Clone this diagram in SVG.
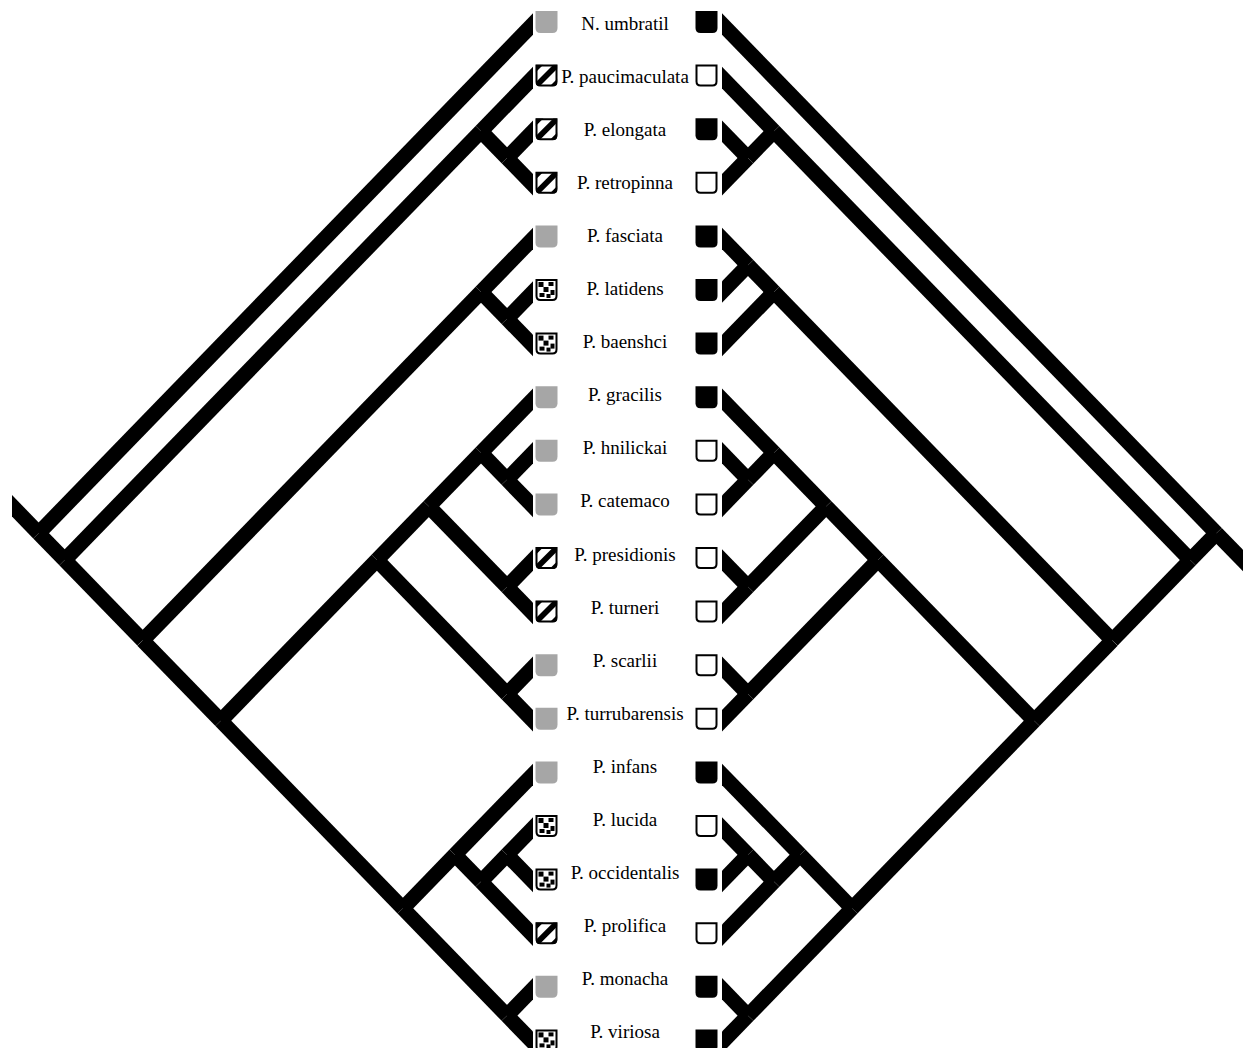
<svg xmlns="http://www.w3.org/2000/svg" width="1243" height="1048" viewBox="0 0 1243 1048">
<style>
.br{stroke:#000;stroke-width:15;stroke-linecap:butt;fill:none}
.lbl{font-family:"Liberation Serif","Times New Roman",serif;font-size:19px;text-anchor:middle;fill:#000}
</style>
<defs>
<clipPath id="clipL"><rect x="12" y="0" width="521" height="1048"/></clipPath>
<clipPath id="clipR"><rect x="722" y="0" width="521" height="1048"/></clipPath>
<clipPath id="sqclip"><path d="M0,0H22V17Q22,22 17,22H5Q0,22 0,17Z"/></clipPath>
<path id="sq" d="M0,0H22V17Q22,22 17,22H5Q0,22 0,17Z"/>
<path id="sqo" d="M1,1H21V17Q21,21 17,21H5Q1,21 1,17Z" fill="#fff" stroke="#000" stroke-width="2"/>
<g id="gray"><use href="#sq" fill="#a6a6a6"/></g>
<g id="blk"><use href="#sq" fill="#000"/></g>
<g id="wht"><use href="#sqo"/></g>
<g id="hat"><use href="#sqo"/><path clip-path="url(#sqclip)" d="M0,0H8L0,8Z M18,0H22V4L4,22H0V18Z M22,14V22H14Z" fill="#000"/></g>
<g id="chk"><use href="#sqo"/><g fill="#000"><rect x="3" y="3" width="5" height="5"/><rect x="13" y="3" width="5" height="4"/><rect x="8" y="8" width="5" height="5"/><rect x="15" y="11" width="4" height="5"/><rect x="4" y="14" width="5" height="4"/><rect x="11" y="15" width="4" height="4"/></g></g>
</defs>
<rect width="1243" height="1048" fill="#fff"/>
<g id="connectors">
<g id="tree-left" clip-path="url(#clipL)">
<line class="br" x1="38.6" y1="533.2" x2="0" y2="493.4"/>
<line class="br" x1="38.6" y1="533.2" x2="543" y2="13.7"/>
<line class="br" x1="38.6" y1="533.2" x2="64.7" y2="560"/>
<line class="br" x1="64.7" y1="560" x2="481" y2="131.2"/>
<line class="br" x1="64.7" y1="560" x2="142.7" y2="640.4"/>
<line class="br" x1="481" y1="131.2" x2="543" y2="67.3"/>
<line class="br" x1="481" y1="131.2" x2="507" y2="158"/>
<line class="br" x1="507" y1="158" x2="543" y2="120.9"/>
<line class="br" x1="507" y1="158" x2="543" y2="195.1"/>
<line class="br" x1="142.7" y1="640.4" x2="481" y2="292"/>
<line class="br" x1="142.7" y1="640.4" x2="220.8" y2="720.8"/>
<line class="br" x1="481" y1="292" x2="543" y2="228.1"/>
<line class="br" x1="481" y1="292" x2="507" y2="318.8"/>
<line class="br" x1="507" y1="318.8" x2="543" y2="281.7"/>
<line class="br" x1="507" y1="318.8" x2="543" y2="355.9"/>
<line class="br" x1="220.8" y1="720.8" x2="376.9" y2="560"/>
<line class="br" x1="220.8" y1="720.8" x2="402.9" y2="908.4"/>
<line class="br" x1="376.9" y1="560" x2="428.9" y2="506.4"/>
<line class="br" x1="376.9" y1="560" x2="507" y2="694"/>
<line class="br" x1="428.9" y1="506.4" x2="481" y2="452.8"/>
<line class="br" x1="428.9" y1="506.4" x2="507" y2="586.8"/>
<line class="br" x1="481" y1="452.8" x2="543" y2="388.9"/>
<line class="br" x1="481" y1="452.8" x2="507" y2="479.6"/>
<line class="br" x1="507" y1="479.6" x2="543" y2="442.5"/>
<line class="br" x1="507" y1="479.6" x2="543" y2="516.7"/>
<line class="br" x1="507" y1="586.8" x2="543" y2="549.7"/>
<line class="br" x1="507" y1="586.8" x2="543" y2="623.9"/>
<line class="br" x1="507" y1="694" x2="543" y2="656.9"/>
<line class="br" x1="507" y1="694" x2="543" y2="731.1"/>
<line class="br" x1="402.9" y1="908.4" x2="454.9" y2="854.8"/>
<line class="br" x1="402.9" y1="908.4" x2="507" y2="1015.6"/>
<line class="br" x1="454.9" y1="854.8" x2="543" y2="764.1"/>
<line class="br" x1="454.9" y1="854.8" x2="481" y2="881.6"/>
<line class="br" x1="481" y1="881.6" x2="507" y2="854.8"/>
<line class="br" x1="481" y1="881.6" x2="543" y2="945.5"/>
<line class="br" x1="507" y1="854.8" x2="543" y2="817.7"/>
<line class="br" x1="507" y1="854.8" x2="543" y2="891.9"/>
<line class="br" x1="507" y1="1015.6" x2="543" y2="978.5"/>
<line class="br" x1="507" y1="1015.6" x2="543" y2="1052.7"/>
</g>
<g id="tree-right" clip-path="url(#clipR)">
<line class="br" x1="1216.4" y1="533.2" x2="1256.4" y2="574.4"/>
<line class="br" x1="1216.4" y1="533.2" x2="712" y2="13.7"/>
<line class="br" x1="1216.4" y1="533.2" x2="1190.3" y2="560"/>
<line class="br" x1="1190.3" y1="560" x2="774" y2="131.2"/>
<line class="br" x1="1190.3" y1="560" x2="1112.3" y2="640.4"/>
<line class="br" x1="774" y1="131.2" x2="712" y2="67.3"/>
<line class="br" x1="774" y1="131.2" x2="748" y2="158"/>
<line class="br" x1="748" y1="158" x2="712" y2="120.9"/>
<line class="br" x1="748" y1="158" x2="712" y2="195.1"/>
<line class="br" x1="1112.3" y1="640.4" x2="774" y2="292"/>
<line class="br" x1="1112.3" y1="640.4" x2="1034.2" y2="720.8"/>
<line class="br" x1="774" y1="292" x2="748" y2="265.2"/>
<line class="br" x1="774" y1="292" x2="712" y2="355.9"/>
<line class="br" x1="748" y1="265.2" x2="712" y2="228.1"/>
<line class="br" x1="748" y1="265.2" x2="712" y2="302.3"/>
<line class="br" x1="1034.2" y1="720.8" x2="878.1" y2="560"/>
<line class="br" x1="1034.2" y1="720.8" x2="852.1" y2="908.4"/>
<line class="br" x1="878.1" y1="560" x2="826.1" y2="506.4"/>
<line class="br" x1="878.1" y1="560" x2="748" y2="694"/>
<line class="br" x1="826.1" y1="506.4" x2="774" y2="452.8"/>
<line class="br" x1="826.1" y1="506.4" x2="748" y2="586.8"/>
<line class="br" x1="774" y1="452.8" x2="712" y2="388.9"/>
<line class="br" x1="774" y1="452.8" x2="748" y2="479.6"/>
<line class="br" x1="748" y1="479.6" x2="712" y2="442.5"/>
<line class="br" x1="748" y1="479.6" x2="712" y2="516.7"/>
<line class="br" x1="748" y1="586.8" x2="712" y2="549.7"/>
<line class="br" x1="748" y1="586.8" x2="712" y2="623.9"/>
<line class="br" x1="748" y1="694" x2="712" y2="656.9"/>
<line class="br" x1="748" y1="694" x2="712" y2="731.1"/>
<line class="br" x1="852.1" y1="908.4" x2="800.1" y2="854.8"/>
<line class="br" x1="852.1" y1="908.4" x2="748" y2="1015.6"/>
<line class="br" x1="800.1" y1="854.8" x2="712" y2="764.1"/>
<line class="br" x1="800.1" y1="854.8" x2="774" y2="881.6"/>
<line class="br" x1="774" y1="881.6" x2="748" y2="854.8"/>
<line class="br" x1="774" y1="881.6" x2="712" y2="945.5"/>
<line class="br" x1="748" y1="854.8" x2="712" y2="817.7"/>
<line class="br" x1="748" y1="854.8" x2="712" y2="891.9"/>
<line class="br" x1="748" y1="1015.6" x2="712" y2="978.5"/>
<line class="br" x1="748" y1="1015.6" x2="712" y2="1052.7"/>
</g>
</g>
<g id="taxa">
<g id="t00"><use href="#gray" x="535.5" y="11"/><text class="lbl" x="625" y="30">N. umbratil</text><use href="#blk" x="695.5" y="11"/></g>
<g id="t01"><use href="#hat" x="535.5" y="64.6"/><text class="lbl" x="625" y="83.05">P. paucimaculata</text><use href="#wht" x="695.5" y="64.6"/></g>
<g id="t02"><use href="#hat" x="535.5" y="118.2"/><text class="lbl" x="625" y="136.1">P. elongata</text><use href="#blk" x="695.5" y="118.2"/></g>
<g id="t03"><use href="#hat" x="535.5" y="171.8"/><text class="lbl" x="625" y="189.15">P. retropinna</text><use href="#wht" x="695.5" y="171.8"/></g>
<g id="t04"><use href="#gray" x="535.5" y="225.4"/><text class="lbl" x="625" y="242.2">P. fasciata</text><use href="#blk" x="695.5" y="225.4"/></g>
<g id="t05"><use href="#chk" x="535.5" y="279"/><text class="lbl" x="625" y="295.25">P. latidens</text><use href="#blk" x="695.5" y="279"/></g>
<g id="t06"><use href="#chk" x="535.5" y="332.6"/><text class="lbl" x="625" y="348.3">P. baenshci</text><use href="#blk" x="695.5" y="332.6"/></g>
<g id="t07"><use href="#gray" x="535.5" y="386.2"/><text class="lbl" x="625" y="401.35">P. gracilis</text><use href="#blk" x="695.5" y="386.2"/></g>
<g id="t08"><use href="#gray" x="535.5" y="439.8"/><text class="lbl" x="625" y="454.4">P. hnilickai</text><use href="#wht" x="695.5" y="439.8"/></g>
<g id="t09"><use href="#gray" x="535.5" y="493.4"/><text class="lbl" x="625" y="507.45">P. catemaco</text><use href="#wht" x="695.5" y="493.4"/></g>
<g id="t10"><use href="#hat" x="535.5" y="547"/><text class="lbl" x="625" y="560.5">P. presidionis</text><use href="#wht" x="695.5" y="547"/></g>
<g id="t11"><use href="#hat" x="535.5" y="600.6"/><text class="lbl" x="625" y="613.55">P. turneri</text><use href="#wht" x="695.5" y="600.6"/></g>
<g id="t12"><use href="#gray" x="535.5" y="654.2"/><text class="lbl" x="625" y="666.6">P. scarlii</text><use href="#wht" x="695.5" y="654.2"/></g>
<g id="t13"><use href="#gray" x="535.5" y="707.8"/><text class="lbl" x="625" y="719.65">P. turrubarensis</text><use href="#wht" x="695.5" y="707.8"/></g>
<g id="t14"><use href="#gray" x="535.5" y="761.4"/><text class="lbl" x="625" y="772.7">P. infans</text><use href="#blk" x="695.5" y="761.4"/></g>
<g id="t15"><use href="#chk" x="535.5" y="815"/><text class="lbl" x="625" y="825.75">P. lucida</text><use href="#wht" x="695.5" y="815"/></g>
<g id="t16"><use href="#chk" x="535.5" y="868.6"/><text class="lbl" x="625" y="878.8">P. occidentalis</text><use href="#blk" x="695.5" y="868.6"/></g>
<g id="t17"><use href="#hat" x="535.5" y="922.2"/><text class="lbl" x="625" y="931.85">P. prolifica</text><use href="#wht" x="695.5" y="922.2"/></g>
<g id="t18"><use href="#gray" x="535.5" y="975.8"/><text class="lbl" x="625" y="984.9">P. monacha</text><use href="#blk" x="695.5" y="975.8"/></g>
<g id="t19"><use href="#chk" x="535.5" y="1029.4"/><text class="lbl" x="625" y="1037.95">P. viriosa</text><use href="#blk" x="695.5" y="1029.4"/></g>
</g>
</svg>
